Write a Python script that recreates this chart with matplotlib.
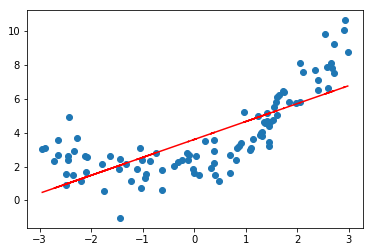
import numpy as np
import matplotlib
matplotlib.use('Agg')
import matplotlib.pyplot as plt

# scatter points
x_pts = [-2.95, -2.89, -2.64, -2.43, -2.27, -2.64, -2.72, -2.46, -2.46, -2.33,
         -2.12, -2.08, -1.63, -1.79, -1.44, -1.47, -1.32, -2.49, -2.35, -2.10,
         -2.49, -2.20, -1.75, -1.44, -1.22, -1.06, -1.12, -1.01, -0.86, -0.75,
         -1.04, -0.93, -0.95, -0.62, -0.62, -0.40, -0.32, -0.24, -0.15, -0.11,
         -0.12,
         0.04, -0.02, -0.01, 0.10, 0.20, 0.38, 0.39, 0.38, 0.32, 0.41,
         0.49, 0.69, 0.70, 0.82, 0.84, 0.86, 0.91, 1.08, 1.11, 1.14,
         1.30, 1.32, 1.28, 1.32, 1.45, 1.45, 0.96, 1.23, 1.41, 1.38,
         1.35, 1.48, 1.46, 1.42, 1.53, 1.61, 1.54, 1.58, 1.61, 1.64,
         1.74, 1.73, 1.84, 1.97, 2.06,
         2.05, 2.11, 2.34, 2.40, 2.40, 2.59, 2.54, 2.71, 2.58, 2.66,
         2.68, 2.71, 2.92, 2.90, 2.98]
y_pts = [3.01, 3.07, 3.57, 4.91, 3.66, 2.71, 2.32, 2.61, 2.36, 2.91,
         2.61, 2.54, 2.60, 2.12, 2.44, 1.84, 2.12, 1.58, 1.52, 1.70,
         0.93, 1.13, 0.58, -1.05, 1.12, 3.07, 1.88, 2.38, 2.32, 2.77,
         0.75, 1.58, 1.31, 1.82, 0.63, 2.06, 2.28, 2.38, 2.77, 2.67,
         2.38,
         2.61, 1.88, 1.62, 1.49, 3.49, 3.56, 2.93, 2.18, 1.94, 1.49,
         1.13, 1.62, 2.67, 2.38, 3.07, 3.21, 3.40, 2.97, 3.07, 3.61,
         3.96, 3.80, 3.86, 4.06, 3.47, 3.21, 5.21, 4.99, 5.19, 4.56,
         4.62, 4.65, 4.40, 4.70, 4.75, 5.05, 5.54, 5.84, 6.14, 6.24,
         6.38, 6.49, 5.84, 5.78, 5.84,
         8.12, 7.59, 7.70, 7.09, 6.54, 6.67, 9.84, 9.25, 7.88, 8.12,
         7.82, 7.53, 10.67, 10.08, 8.77]

# fitted line
intercept = 3.60
slope = 1.06

X = np.array(x_pts)
y = np.array(y_pts)
pred = intercept + slope * X

fig = plt.figure(figsize=(372 / 72, 252 / 72), dpi=72)
ax = fig.add_axes([27 / 372, 24 / 252, 336 / 372, 218 / 252])
ax.scatter(X, y)
ax.plot(X, pred, color='r')
ax.set_xticks([-3, -2, -1, 0, 1, 2, 3])
ax.set_yticks([0, 2, 4, 6, 8, 10])
fig.savefig('out.png', dpi=72)
